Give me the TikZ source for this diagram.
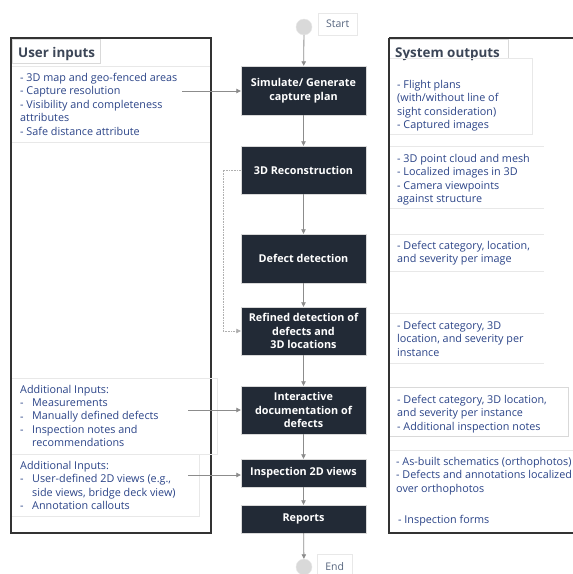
\documentclass[tikz,border=0pt]{standalone}
\usepackage{fontspec}
\setmainfont{Open Sans}
\usetikzlibrary{arrows.meta,calc}
\definecolor{darkbox}{HTML}{222A36}
\definecolor{txtblue}{HTML}{2B4488}
\definecolor{titlecol}{HTML}{3C4657}
\definecolor{boxline}{HTML}{D9D9D9}
\definecolor{faint}{HTML}{E8E8E8}
\definecolor{arrowgray}{HTML}{8C8C8C}
\definecolor{bigborder}{HTML}{333333}
\definecolor{startcol}{HTML}{56657E}
\tikzset{
  stepbox/.style={fill=darkbox,draw=boxline,line width=0.4pt,minimum width=125pt,text=white,
     font=\fontsize{10.8}{13.4}\selectfont\bfseries,align=center,inner sep=2pt},
  bigbox/.style={draw=bigborder,line width=1.6pt},
  thinbox/.style={draw=boxline,line width=0.5pt},
  faintline/.style={draw=faint,line width=0.5pt},
  itemtext/.style={text=txtblue,font=\fontsize{10.8}{13.45}\selectfont,align=left,inner sep=0pt,anchor=north west},
  titletext/.style={text=titlecol,font=\fontsize{13.4}{15}\selectfont\bfseries,inner sep=0pt,anchor=base west},
  flow/.style={draw=arrowgray,line width=0.8pt,-{Triangle[length=4.5pt,width=4.5pt]}},
  dotflow/.style={draw=arrowgray!70,line width=0.6pt,densely dotted,-{Triangle[length=4.5pt,width=4.5pt]}},
  terminal/.style={circle,fill=boxline,draw=faint,minimum size=16pt,inner sep=0pt},
  termlabel/.style={draw=faint,text=startcol,font=\fontsize{10.5}{12}\selectfont,inner sep=0pt,anchor=north west}
}
\begin{document}
\begin{tikzpicture}[x=1pt,y=-1pt]
\useasboundingbox (0,0) rectangle (573,574);
\fill[white] (0,0) rectangle (573,574);

% big boxes
\draw[bigbox] (11,38) rectangle (211,533);
\draw[bigbox] (389,38) -- (580,38);
\draw[bigbox] (389,38) -- (389,533) -- (580,533);

% title boxes
\draw[thinbox] (12,39) rectangle (100,63);
\node[titletext] (tin) at (18,57) {User inputs};
\draw[thinbox] (390,39) -- (508,39) -- (508,58);
\node[titletext] (tout) at (395,57) {System outputs};

% input text boxes
\draw[faintline] (12,66) -- (210,66);
\draw[faintline] (12,142) -- (210,142);
\node[itemtext] (ui1) at (20,73) {- 3D map and geo-fenced areas\\- Capture resolution\\- Visibility and completeness\\attributes\\- Safe distance attribute};
\coordinate (ui1a) at (182,91);

\draw[faintline] (12,378) -- (217,378) -- (217,454) -- (12,454);
\node[itemtext] (ai1) at (20,385) {Additional Inputs:\\-\\-\\-};
\node[itemtext] (ai1b) at (32,398.45) {Measurements\\Manually defined defects\\Inspection notes and\\recommendations};
\coordinate (ai1a) at (188,410);

\draw[faintline] (199,454) -- (199,516) -- (12,516);
\node[itemtext] (ai2) at (20,461) {Additional Inputs:\\-\\\phantom{-}\\-};
\node[itemtext] (ai2b) at (32,474.45) {User-defined 2D views (e.g.,\\side views, bridge deck view)\\Annotation callouts};
\coordinate (ai2a) at (188,475);

% output text boxes
\draw[faintline] (390,58) -- (532,58) -- (532,134) -- (390,134);
\node[itemtext] (o1) at (397,80) {- Flight plans\\(with/without line of\\sight consideration)\\- Captured images};
\draw[faintline] (390,146) -- (544,146);
\draw[faintline] (390,208) -- (544,208);
\node[itemtext] (o2) at (397,154) {- 3D point cloud and mesh\\- Localized images in 3D\\- Camera viewpoints\\against structure};
\draw[faintline] (390,234) -- (544,234);
\draw[faintline] (390,271) -- (544,271);
\node[itemtext] (o3) at (397,241) {- Defect category, location,\\and severity per image};
\draw[faintline] (390,313) -- (544,313);
\draw[faintline] (390,363) -- (544,363);
\node[itemtext] (o4) at (397,321) {- Defect category, 3D\\location, and severity per\\instance};
\draw[thinbox] (390,387) -- (568,387) -- (568,436) -- (390,436);
\node[itemtext] (o5) at (397,395) {- Defect category, 3D location,\\and severity per instance\\- Additional inspection notes};
\draw[faintline] (390,450) -- (580,450);
\node[itemtext] (o6) at (396,457) {- As-built schematics (orthophotos)\\- Defects and annotations localized\\over orthophotos};
\node[itemtext] (o7) at (398,515) {- Inspection forms};

% flow boxes
\node[stepbox,minimum height=49pt] (b1) at (303.5,90.5) {Simulate/ Generate\\capture plan};
\node[stepbox,minimum height=48pt] (b2) at (303.5,170) {3D Reconstruction};
\node[stepbox,minimum height=49pt] (b3) at (303.5,258.5) {Defect detection};
\node[stepbox,minimum height=48pt] (b4) at (303.5,331) {Refined detection of\\defects and\\3D locations};
\node[stepbox,minimum height=48pt] (b5) at (303.5,410) {Interactive\\documentation of\\defects};
\node[stepbox,minimum height=28pt] (b6) at (303.5,473) {Inspection 2D views};
\node[stepbox,minimum height=28pt] (b7) at (303.5,519) {Reports};

% terminals
\node[terminal] (start) at (304,27) {};
\node[termlabel,minimum width=39pt,minimum height=22pt] (startl) at (318,13) {Start};
\node[terminal] (end) at (304,567) {};
\node[termlabel,minimum width=35pt,minimum height=24pt] (endl) at (317,554) {End};

% connectors
\draw[flow] (start) -- (b1);
\draw[flow] (b1) -- (b2);
\draw[flow] (b2) -- (b3);
\draw[flow] (b3) -- (b4);
\draw[flow] (b4) -- (b5);
\draw[flow] (b5) -- (b6);
\draw[flow] (b6) -- (b7);
\draw[flow] (b7) -- (end);
\draw[flow] (ui1a) -- (ui1a -| b1.west);
\draw[flow] (ai1a) -- (ai1a -| b5.west);
\draw[flow] (ai2a) -- (ai2a -| b6.west);
\draw[dotflow] (b2.west) -- ++(-18,0) |- (b4.west);
\end{tikzpicture}
\end{document}
